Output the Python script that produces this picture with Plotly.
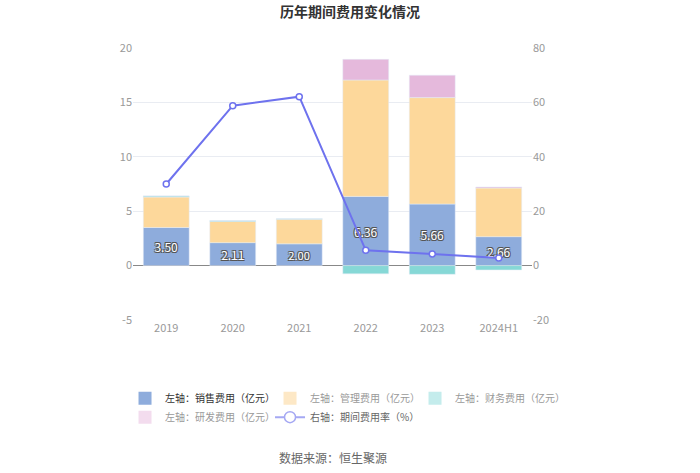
import plotly.graph_objects as go

categories = ["2019", "2020", "2021", "2022", "2023", "2024H1"]
sales = [3.50, 2.11, 2.00, 6.36, 5.66, 2.66]
management = [2.80, 1.95, 2.25, 10.70, 9.78, 4.47]
finance = [0.10, 0.08, 0.06, -0.76, -0.80, -0.40]
rnd = [0.0, 0.0, 0.0, 1.90, 2.06, 0.10]
rate = [30.0, 58.8, 62.1, 5.6, 4.3, 2.8]
sales_labels = [f"{v:.2f}" for v in sales]
left_ticks = [-5, 0, 5, 10, 15, 20]
right_ticks = [-20, 0, 20, 40, 60, 80]

FONT = "Noto Sans CJK SC, Noto Sans, sans-serif"
C_SALES = "#8eacdc"
C_MGMT = "#fdd89b"
C_FIN = "#86d8d6"
C_RND = "#e5b9dc"
C_LINE = "#6e72ee"

fig = go.Figure()
fig.add_trace(go.Bar(
    x=categories, y=sales, marker_color=C_SALES, showlegend=False,
    text=sales_labels, textposition="inside", insidetextanchor="middle", textangle=0,
    textfont=dict(color="white", size=12, family=FONT,
                  shadow="-1px -1px 0 #555, 1px -1px 0 #555, -1px 1px 0 #555, 1px 1px 0 #555"),
    yaxis="y"))
fig.add_trace(go.Bar(x=categories, y=management, marker_color=C_MGMT, showlegend=False, yaxis="y"))
fig.add_trace(go.Bar(x=categories, y=finance, marker_color=C_FIN, showlegend=False, yaxis="y"))
fig.add_trace(go.Bar(x=categories, y=rnd, marker_color=C_RND, showlegend=False, yaxis="y"))
fig.add_trace(go.Scatter(
    x=categories, y=rate, mode="lines+markers", yaxis="y2", showlegend=False,
    line=dict(color=C_LINE, width=2),
    marker=dict(symbol="circle", size=6, color="white", line=dict(color=C_LINE, width=1.5))))

# legend entries
legend_items = [
    ("左轴：销售费用（亿元）", "#8eacdc", "#333333"),
    ("左轴：管理费用（亿元）", "#fde8c6", "#999999"),
    ("左轴：财务费用（亿元）", "#c4ecec", "#999999"),
    ("左轴：研发费用（亿元）", "#f3dcee", "#999999"),
]
for name, col, tcol in legend_items:
    fig.add_trace(go.Scatter(x=[None], y=[None], mode="markers",
                             marker=dict(symbol="square", size=13, color=col),
                             name=f"<span style='color:{tcol}'>{name}</span>", showlegend=True))
fig.add_trace(go.Scatter(x=[None], y=[None], mode="lines+markers",
                         name="<span style='color:#666666'>右轴：期间费用率（%）</span>",
                         line=dict(color="#a5a8f3", width=2),
                         marker=dict(symbol="circle", size=11, color="white",
                                     line=dict(color="#a5a8f3", width=1.5))))

fig.update_layout(
    width=700, height=473,
    paper_bgcolor="white", plot_bgcolor="white",
    margin=dict(l=133, r=168, t=48, b=153),
    barmode="relative", bargap=0.31,
    font=dict(family=FONT, color="#999999", size=11),
    title=dict(text="<b>历年期间费用变化情况</b>", x=0.5, xanchor="center", y=0.975, yanchor="middle",
               font=dict(size=14, color="#333333", family=FONT)),
    xaxis=dict(showgrid=False, showline=False, ticks="", tickfont=dict(size=11, color="#999999")),
    yaxis=dict(range=[-5, 20], tickvals=left_ticks, ticktext=[str(v) for v in left_ticks],
               showgrid=True, gridcolor="#e9ecf2", zeroline=True,
               zerolinecolor="#888888", zerolinewidth=1, ticks="", tickfont=dict(size=11, color="#999999")),
    yaxis2=dict(range=[-20, 80], tickvals=right_ticks, ticktext=[str(v) for v in right_ticks],
                overlaying="y", side="right", showgrid=False,
                zeroline=False, ticks="", tickfont=dict(size=11, color="#999999")),
    legend=dict(orientation="h", x=-0.02, xanchor="left", y=-0.234, yanchor="top",
                entrywidth=100, font=dict(size=10, family=FONT), traceorder="normal",
                itemwidth=30, tracegroupgap=0),
    annotations=[dict(text="数据来源：恒生聚源", xref="paper", yref="paper", x=0.5, y=-0.504,
                      xanchor="center", yanchor="middle", showarrow=False,
                      font=dict(size=12, color="#666666", family=FONT))],
)

fig.write_html("out.html", config={"displayModeBar": False},
               post_script="document.body.style.margin='0';")
